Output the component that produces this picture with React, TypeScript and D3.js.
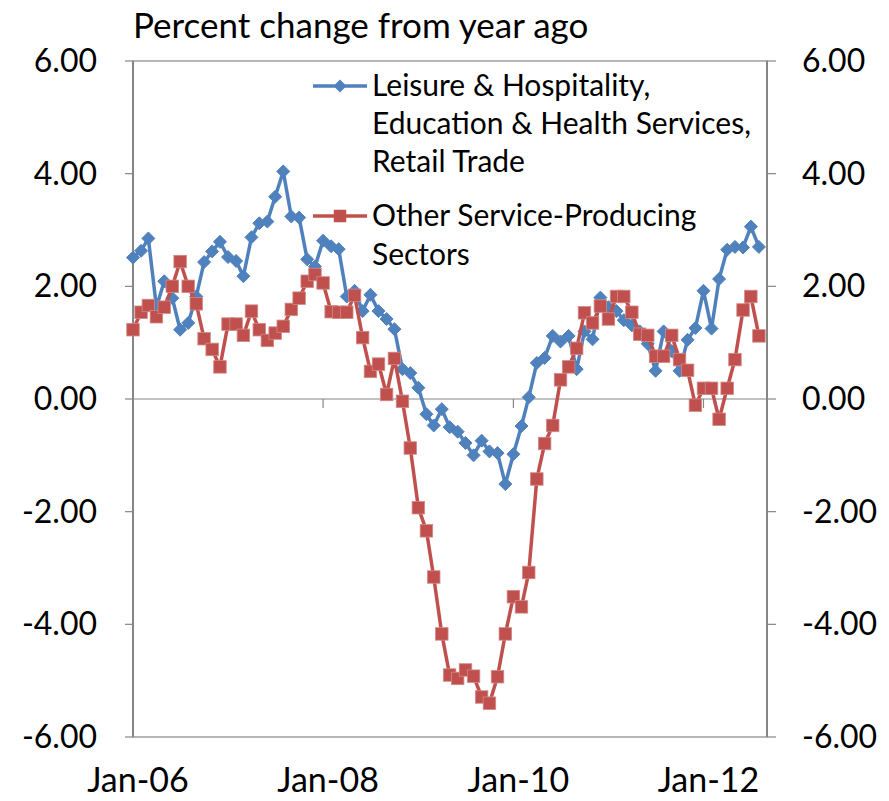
import * as d3 from 'd3';

// monthly, Jan-2006 .. Aug-2012
const START = new Date(2006, 0, 1);
const months = d3.range(80).map((i) => new Date(2006, i, 1));

const leisureEdRetail = [
  2.51, 2.63, 2.85, 1.63, 2.09, 1.79, 1.23, 1.35, 1.82, 2.43, 2.62, 2.79,
  2.52, 2.45, 2.18, 2.87, 3.12, 3.15, 3.59, 4.04, 3.24, 3.22, 2.48, 2.35,
  2.81, 2.71, 2.66, 1.82, 1.92, 1.56, 1.85, 1.56, 1.42, 1.24, 0.53, 0.46,
  0.20, -0.27, -0.47, -0.18, -0.50, -0.58, -0.78, -1.00, -0.74, -0.93, -0.96, -1.51,
  -0.98, -0.48, 0.03, 0.64, 0.73, 1.12, 1.02, 1.12, 0.53, 1.20, 1.06, 1.80,
  1.63, 1.56, 1.40, 1.31, 1.20, 0.98, 0.50, 1.20, 0.85, 0.50, 1.05, 1.26,
  1.92, 1.25, 2.13, 2.65, 2.70, 2.69, 3.06, 2.70,
];

const otherServices = [
  1.23, 1.54, 1.66, 1.46, 1.63, 2.00, 2.44, 2.00, 1.69, 1.07, 0.88, 0.57,
  1.33, 1.33, 1.13, 1.56, 1.23, 1.04, 1.17, 1.29, 1.59, 1.79, 2.09, 2.21,
  2.06, 1.55, 1.54, 1.54, 1.84, 1.09, 0.49, 0.62, 0.08, 0.72, -0.04, -0.87,
  -1.93, -2.34, -3.16, -4.17, -4.90, -4.96, -4.81, -4.92, -5.29, -5.40, -4.93, -4.17,
  -3.51, -3.69, -3.08, -1.42, -0.79, -0.47, 0.34, 0.57, 0.90, 1.53, 1.35, 1.65,
  1.42, 1.82, 1.82, 1.54, 1.15, 1.13, 0.76, 0.76, 1.13, 0.70, 0.51, -0.11,
  0.19, 0.19, -0.36, 0.19, 0.70, 1.58, 1.82, 1.12,
];

const yTicks = [6, 4, 2, 0, -2, -4, -6];
const xTickDates = [new Date(2006, 0, 1), new Date(2008, 0, 1), new Date(2010, 0, 1), new Date(2012, 0, 1)];
const xTickLabels = ['Jan-06', 'Jan-08', 'Jan-10', 'Jan-12'];

const legendLeisure = ['Leisure & Hospitality,', 'Education & Health Services,', 'Retail Trade'];
const legendOther = ['Other Service-Producing', 'Sectors'];

const BLUE = '#4F81BD';
const RED = '#C0504D';
const AXIS = '#868686';
const FONT = 'Lato, "Open Sans", sans-serif';

export default function App() {
  const width = 889;
  const height = 801;
  const left = 133;
  const right = 767;
  const top = 61;
  const bottom = 737;

  const x = d3.scaleTime().domain([START, new Date(2012, 8, 1)]).range([left, right]);
  const y = d3.scaleLinear().domain([-6, 6]).range([bottom, top]);

  const line = d3.line<number>()
    .x((_, i) => x(months[i]))
    .y((d) => y(d));

  const diamond = (cx: number, cy: number, r: number) =>
    `M${cx},${cy - r}L${cx + r},${cy}L${cx},${cy + r}L${cx - r},${cy}Z`;

  const sq = 12.5;

  return (
    <svg width={width} height={height} style={{ position: 'absolute', left: 0, top: 0, background: '#fff' }}
      fontFamily={FONT}>
      <text x={133} y={38} fontSize={35} fill="#000">Percent change from year ago</text>

      {/* plot frame */}
      <rect x={left} y={top} width={right - left} height={bottom - top} fill="none" stroke={AXIS} strokeWidth={1.2} />
      <line x1={left} x2={left} y1={top} y2={bottom} stroke={AXIS} strokeWidth={2} />
      <line x1={right} x2={right} y1={top} y2={bottom} stroke={AXIS} strokeWidth={2} />

      {yTicks.map((t) => (
        <g key={t}>
          <line x1={left - 8} x2={left} y1={y(t)} y2={y(t)} stroke={AXIS} strokeWidth={1.2} />
          <line x1={right} x2={right + 9} y1={y(t)} y2={y(t)} stroke={AXIS} strokeWidth={1.2} />
          <text x={97} y={y(t) + 11} textAnchor="end" fontSize={32} fill="#000">{t.toFixed(2)}</text>
          <text x={802} y={y(t) + 11} textAnchor="start" fontSize={32} fill="#000">{t.toFixed(2)}</text>
        </g>
      ))}

      {/* category axis at zero */}
      <line x1={left} x2={right} y1={y(0)} y2={y(0)} stroke={AXIS} strokeWidth={1.2} />
      {xTickDates.map((d, i) => (
        <g key={i}>
          <line x1={x(d)} x2={x(d)} y1={y(0)} y2={y(0) + 9} stroke={AXIS} strokeWidth={1.2} />
          <text x={x(d) + 5} y={792} textAnchor="middle" fontSize={34} fill="#000">{xTickLabels[i]}</text>
        </g>
      ))}

      {/* series */}
      <path d={line(leisureEdRetail) ?? ''} fill="none" stroke={BLUE} strokeWidth={3.5} strokeLinejoin="round" />
      {leisureEdRetail.map((v, i) => (
        <path key={i} d={diamond(x(months[i]), y(v), 6.5)} fill={BLUE} stroke={BLUE} strokeWidth={1} />
      ))}
      <path d={line(otherServices) ?? ''} fill="none" stroke={RED} strokeWidth={3.5} strokeLinejoin="round" />
      {otherServices.map((v, i) => (
        <rect key={i} x={x(months[i]) - sq / 2} y={y(v) - sq / 2} width={sq} height={sq} fill={RED}
          stroke="#D08A88" strokeWidth={0.8} />
      ))}

      {/* legend */}
      <line x1={313} x2={367} y1={86} y2={86} stroke={BLUE} strokeWidth={3.5} />
      <path d={diamond(340, 86, 6.5)} fill={BLUE} />
      {legendLeisure.map((s, i) => (
        <text key={s} x={372} y={96 + i * 38} fontSize={30} fill="#000">{s}</text>
      ))}
      <line x1={313} x2={367} y1={216} y2={216} stroke={RED} strokeWidth={3.5} />
      <rect x={340 - sq / 2} y={216 - sq / 2} width={sq} height={sq} fill={RED} />
      {legendOther.map((s, i) => (
        <text key={s} x={372} y={226 + i * 39} fontSize={30} fill="#000">{s}</text>
      ))}
    </svg>
  );
}
